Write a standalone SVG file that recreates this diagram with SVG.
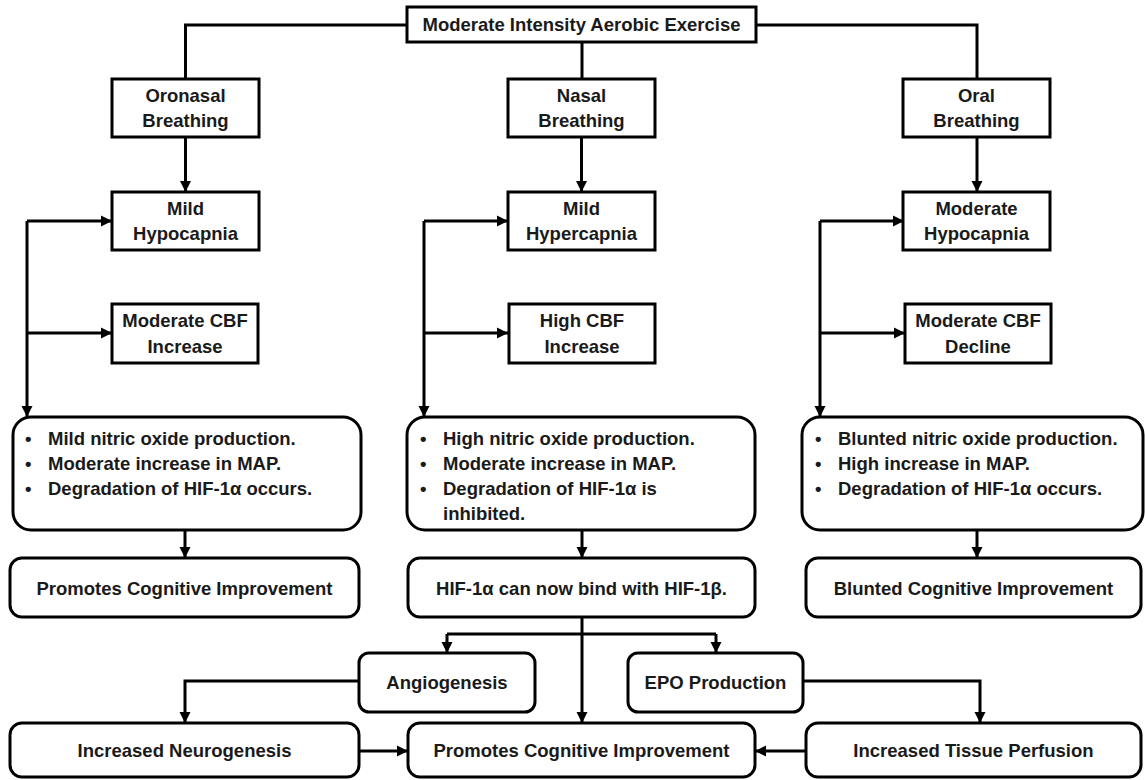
<svg xmlns="http://www.w3.org/2000/svg" width="1145" height="780" viewBox="0 0 1145 780">
<defs>
<marker id="ah" markerUnits="userSpaceOnUse" markerWidth="12" markerHeight="12" refX="11" refY="6" orient="auto">
<path d="M0,0.5 L11,6 L0,11.5 z" fill="#000"/>
</marker>
<style>
.b{fill:#fff;stroke:#000;stroke-width:3}
.t{font-family:"Liberation Sans",Arial,sans-serif;font-weight:bold;font-size:18.5px;fill:#1a1a1a}
.c{text-anchor:middle}
.l{fill:none;stroke:#000;stroke-width:3}
.a{fill:none;stroke:#000;stroke-width:3;marker-end:url(#ah)}
</style>
</defs>
<rect width="1145" height="780" fill="#fff"/>
<g id="connectors">
<path class="l" d="M407,25 H185.5 V79"/>
<path class="l" d="M756,25 H977 V79"/>
<path class="l" d="M582,42 V79"/>
<path class="a" d="M185.5,137 V192"/>
<path class="a" d="M581.5,137 V192"/>
<path class="a" d="M977,137 V192"/>
<path class="a" d="M27,221 H112"/>
<path class="a" d="M27,333 H112"/>
<path class="a" d="M27,221 V417"/>
<path class="a" d="M424,221 H508"/>
<path class="a" d="M424,333 H508"/>
<path class="a" d="M424,221 V417"/>
<path class="a" d="M820,221 H904"/>
<path class="a" d="M820,333 H905"/>
<path class="a" d="M820,221 V417"/>
<path class="a" d="M185,530 V558"/>
<path class="a" d="M582,530 V558"/>
<path class="a" d="M977,530 V558"/>
<path class="a" d="M582,617 V723"/>
<path class="l" d="M447,634 H716"/>
<path class="a" d="M447,634 V653"/>
<path class="a" d="M716,634 V653"/>
<path class="a" d="M359,681 H185 V723"/>
<path class="a" d="M803,681 H980 V723"/>
<path class="a" d="M359,751 H408"/>
<path class="a" d="M806,751 H755"/>
</g>
<g id="n-exercise"><rect class="b" x="407" y="7" width="349" height="35"/><text class="t c" x="581.5" y="31">Moderate Intensity Aerobic Exercise</text></g>
<g id="n-oronasal"><rect class="b" x="112" y="79" width="147" height="58"/><text class="t c" x="185.5" y="102">Oronasal</text><text class="t c" x="185.5" y="127">Breathing</text></g>
<g id="n-nasal"><rect class="b" x="508" y="79" width="147" height="58"/><text class="t c" x="581.5" y="102">Nasal</text><text class="t c" x="581.5" y="127">Breathing</text></g>
<g id="n-oral"><rect class="b" x="903" y="79" width="147" height="58"/><text class="t c" x="976.5" y="102">Oral</text><text class="t c" x="976.5" y="127">Breathing</text></g>
<g id="n-mildhypo"><rect class="b" x="112" y="192" width="147" height="58"/><text class="t c" x="185.5" y="215">Mild</text><text class="t c" x="185.5" y="240">Hypocapnia</text></g>
<g id="n-mildhyper"><rect class="b" x="508" y="192" width="147" height="58"/><text class="t c" x="581.5" y="215">Mild</text><text class="t c" x="581.5" y="240">Hypercapnia</text></g>
<g id="n-modhypo"><rect class="b" x="903" y="192" width="147" height="58"/><text class="t c" x="976.5" y="215">Moderate</text><text class="t c" x="976.5" y="240">Hypocapnia</text></g>
<g id="n-cbf1"><rect class="b" x="112" y="304" width="146" height="59"/><text class="t c" x="185" y="327">Moderate CBF</text><text class="t c" x="185" y="353">Increase</text></g>
<g id="n-cbf2"><rect class="b" x="509" y="304" width="146" height="59"/><text class="t c" x="582" y="327">High CBF</text><text class="t c" x="582" y="353">Increase</text></g>
<g id="n-cbf3"><rect class="b" x="905" y="304" width="146" height="59"/><text class="t c" x="978" y="327">Moderate CBF</text><text class="t c" x="978" y="353">Decline</text></g>
<g id="n-effects1"><rect class="b" x="13" y="417" width="348" height="113" rx="18"/>
<text class="t" y="445"><tspan x="25">•</tspan><tspan x="48">Mild nitric oxide production.</tspan></text>
<text class="t" y="470"><tspan x="25">•</tspan><tspan x="48">Moderate increase in MAP.</tspan></text>
<text class="t" y="495"><tspan x="25">•</tspan><tspan x="48">Degradation of HIF-1α occurs.</tspan></text></g>
<g id="n-effects2"><rect class="b" x="407" y="417" width="348" height="113" rx="18"/>
<text class="t" y="445"><tspan x="420">•</tspan><tspan x="443">High nitric oxide production.</tspan></text>
<text class="t" y="470"><tspan x="420">•</tspan><tspan x="443">Moderate increase in MAP.</tspan></text>
<text class="t" y="495"><tspan x="420">•</tspan><tspan x="443">Degradation of HIF-1α is</tspan></text>
<text class="t" x="443" y="520">inhibited.</text></g>
<g id="n-effects3"><rect class="b" x="802" y="417" width="341" height="113" rx="18"/>
<text class="t" y="445"><tspan x="815">•</tspan><tspan x="838">Blunted nitric oxide production.</tspan></text>
<text class="t" y="470"><tspan x="815">•</tspan><tspan x="838">High increase in MAP.</tspan></text>
<text class="t" y="495"><tspan x="815">•</tspan><tspan x="838">Degradation of HIF-1α occurs.</tspan></text></g>
<g id="n-promotes1"><rect class="b" x="10" y="558" width="349" height="59" rx="12"/><text class="t c" x="184.5" y="595">Promotes Cognitive Improvement</text></g>
<g id="n-hif"><rect class="b" x="408" y="558" width="347" height="59" rx="12"/><text class="t c" x="581.5" y="595">HIF-1α can now bind with HIF-1β.</text></g>
<g id="n-blunted"><rect class="b" x="806" y="558" width="335" height="59" rx="12"/><text class="t c" x="973.5" y="595">Blunted Cognitive Improvement</text></g>
<g id="n-angio"><rect class="b" x="359" y="653" width="176" height="59" rx="10"/><text class="t c" x="447" y="689">Angiogenesis</text></g>
<g id="n-epo"><rect class="b" x="628" y="653" width="175" height="59" rx="10"/><text class="t c" x="715.5" y="689">EPO Production</text></g>
<g id="n-neuro"><rect class="b" x="10" y="723" width="349" height="54" rx="12"/><text class="t c" x="184.5" y="757">Increased Neurogenesis</text></g>
<g id="n-promotes2"><rect class="b" x="408" y="723" width="347" height="54" rx="12"/><text class="t c" x="581.5" y="757">Promotes Cognitive Improvement</text></g>
<g id="n-perfusion"><rect class="b" x="806" y="723" width="335" height="54" rx="12"/><text class="t c" x="973.5" y="757">Increased Tissue Perfusion</text></g>
</svg>
